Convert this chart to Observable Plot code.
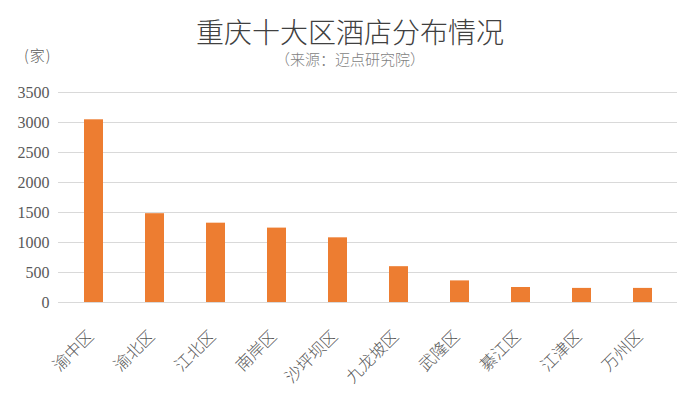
<!DOCTYPE html>
<html>
<head>
<meta charset="utf-8">
<script src="https://cdn.jsdelivr.net/npm/d3@7"></script>
<script src="https://cdn.jsdelivr.net/npm/@observablehq/plot@0.6"></script>
<style>
  html, body { margin: 0; padding: 0; background: #fff; }
  #wrap { width: 700px; height: 399px; position: relative; overflow: hidden; }
  #head { position: relative; width: 700px; height: 80px; }
  #title { position: absolute; left: 0; width: 700px; top: 16px; text-align: center;
    font-family: "Noto Sans CJK SC", sans-serif; font-weight: 300; font-size: 28px; line-height: 30px; color: #404040; }
  #sub { position: absolute; left: 0; width: 700px; top: 50px; text-align: center;
    font-family: "Noto Sans CJK SC", sans-serif; font-weight: 300; font-size: 15px; line-height: 18px; color: #7f7f7f; }
  #unit { position: absolute; left: 24px; top: 45px;
    font-family: "Noto Sans CJK SC", sans-serif; font-weight: 300; font-size: 15px; line-height: 20px; color: #595959; letter-spacing: 1px; }
  svg { display: block; }
</style>
</head>
<body>
<div id="wrap">
  <div id="head">
    <div id="title">重庆十大区酒店分布情况</div>
    <div id="sub">（来源：迈点研究院）</div>
    <div id="unit">(家)</div>
  </div>
  <div id="chart"></div>
</div>
<script>
const districts = ["渝中区", "渝北区", "江北区", "南岸区", "沙坪坝区", "九龙坡区", "武隆区", "綦江区", "江津区", "万州区"];
const hotels = [3045, 1480, 1322, 1240, 1078, 597, 360, 250, 235, 235];
const yTicks = [0, 500, 1000, 1500, 2000, 2500, 3000, 3500];

const data = districts.map((d, i) => ({district: d, value: hotels[i]}));

const chart = Plot.plot({
  width: 700,
  height: 319,
  marginTop: 12,
  marginBottom: 97,
  marginLeft: 58,
  marginRight: 23,
  style: {background: "#fff"},
  x: {domain: districts, paddingInner: 0.69, paddingOuter: 0.345, axis: null},
  y: {domain: [0, 3500], axis: null},
  marks: [
    Plot.ruleY(yTicks, {stroke: "#d9d9d9", strokeWidth: 1.2}),
    Plot.barY(data, {x: "district", y: "value", fill: "#ed7d31"}),
    Plot.text(yTicks, {
      y: d => d, frameAnchor: "left", dx: -9, text: d => String(d), textAnchor: "end",
      fill: "#595959", fontSize: 16
    }),
    Plot.text(districts, {
      x: d => d, y: () => 0, text: d => d, rotate: -45, textAnchor: "end", lineAnchor: "middle",
      dx: -3, dy: 31, fill: "#595959", fontSize: 16.5
    })
  ]
});
d3.select(chart).selectAll("text").each(function() {
  const t = this.textContent;
  if (/^\d+$/.test(t)) {
    this.style.fontFamily = "'Liberation Serif', 'DejaVu Serif', serif";
  } else {
    this.style.fontFamily = "'Noto Sans CJK SC', sans-serif";
    this.style.fontWeight = "300";
  }
});
document.getElementById("chart").appendChild(chart);
</script>
</body>
</html>
